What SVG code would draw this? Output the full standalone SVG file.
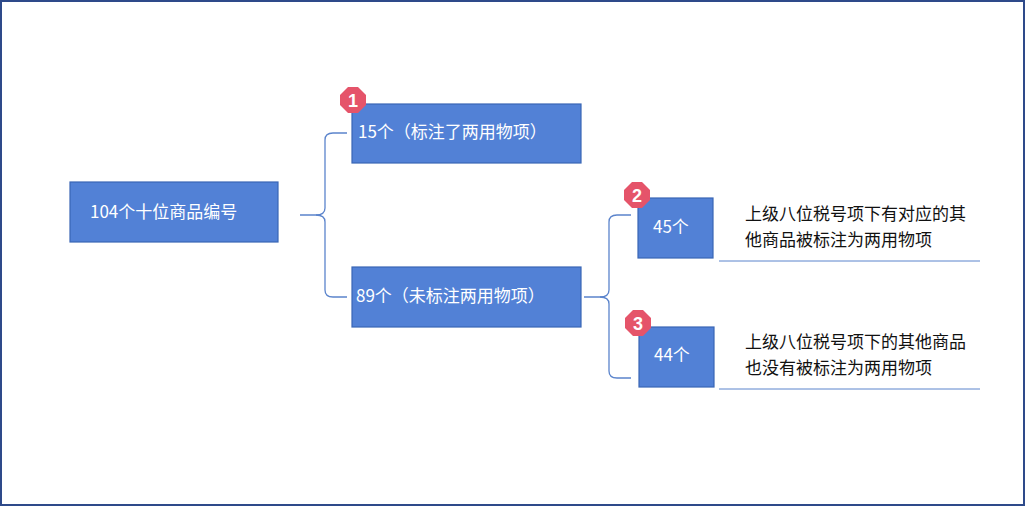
<svg xmlns="http://www.w3.org/2000/svg" width="1025" height="506" viewBox="0 0 1025 506">
<style>
.box{fill:#5281D6;stroke:#3A66B5;stroke-width:1.2}
.t{font-family:"Noto Sans CJK SC","Liberation Sans",sans-serif;font-size:17px;fill:#fff}
.d{font-family:"Noto Sans CJK SC","Liberation Sans",sans-serif;font-size:17px;fill:#111}
.c{fill:none;stroke:#5B84CC;stroke-width:1.3}
.b{fill:#E5546A}
.bt{font-family:"Liberation Sans",sans-serif;font-weight:bold;font-size:18px;fill:#fff;text-anchor:middle}
.u{stroke:#5B84CC;stroke-width:1}
</style>
<rect x="1" y="1" width="1023" height="504" fill="#fff" stroke="#2E4A8A" stroke-width="2"/>
<g id="connectors">
<path class="c" d="M300,215 H316 Q325,215 325,208 V140 Q325,133 333,133 H347"/>
<path class="c" d="M316,215 Q325,215 325,222 V290 Q325,297 333,297 H347"/>
<path class="c" d="M584,297 H600 Q609,297 609,290 V222 Q609,215 617,215 H631"/>
<path class="c" d="M600,297 Q609,297 609,304 V371 Q609,378 617,378 H631"/>
<line class="u" x1="719" y1="261" x2="980" y2="261"/>
<line class="u" x1="719" y1="389" x2="980" y2="389"/>
</g>
<g id="root"><rect class="box" x="70" y="182" width="208" height="60"/><text class="t" x="90" y="218">104个十位商品编号</text></g>
<g id="n15"><rect class="box" x="352" y="104" width="229" height="59"/><text class="t" x="358" y="138">15个（标注了两用物项）</text></g>
<g id="n89"><rect class="box" x="352" y="267" width="229" height="60"/><text class="t" x="356" y="302">89个（未标注两用物项）</text></g>
<g id="n45"><rect class="box" x="638" y="198" width="75" height="60"/><text class="t" x="653" y="233">45个</text></g>
<g id="n44"><rect class="box" x="639" y="327" width="75" height="60"/><text class="t" x="654" y="361">44个</text></g>
<g id="d45"><text class="d" x="745" y="220">上级八位税号项下有对应的其</text><text class="d" x="745" y="246">他商品被标注为两用物项</text></g>
<g id="d44"><text class="d" x="745" y="348">上级八位税号项下的其他商品</text><text class="d" x="745" y="374">也没有被标注为两用物项</text></g>
<g id="badge1"><polygon class="b" points="348,87 358,87 366,95 366,105 358,113 348,113 340,105 340,95"/><text class="bt" x="353" y="107">1</text></g>
<g id="badge2"><polygon class="b" points="632,182 642,182 650,190 650,200 642,208 632,208 624,200 624,190"/><text class="bt" x="637" y="202">2</text></g>
<g id="badge3"><polygon class="b" points="633,310 643,310 651,318 651,328 643,336 633,336 625,328 625,318"/><text class="bt" x="638" y="330">3</text></g>
</svg>
